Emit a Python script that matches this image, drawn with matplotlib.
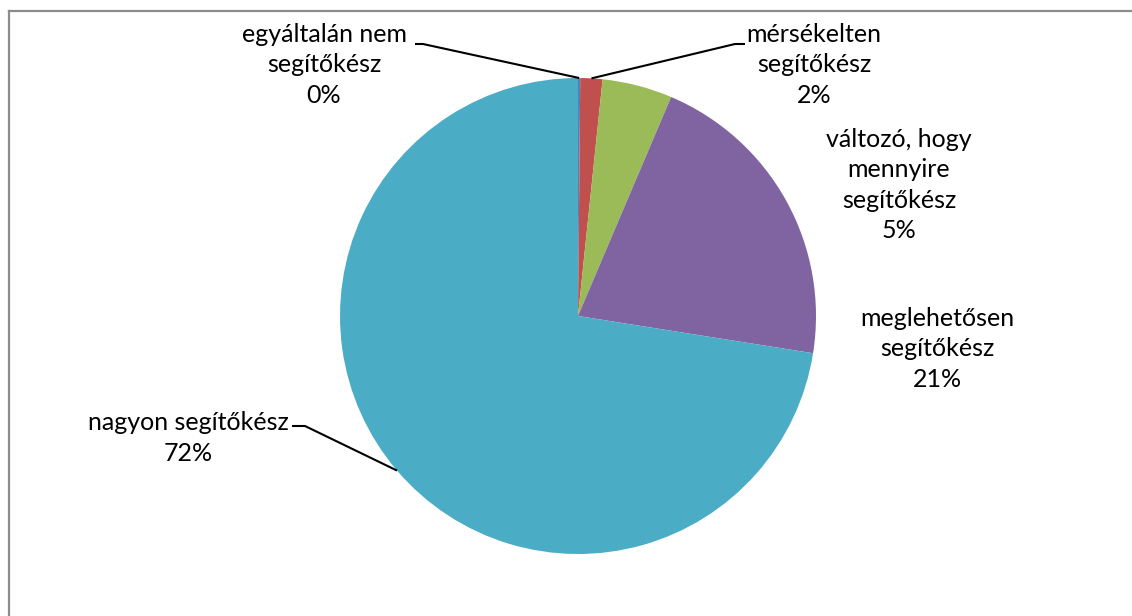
import numpy as np
import matplotlib
matplotlib.use("Agg")
import matplotlib.pyplot as plt
from matplotlib.lines import Line2D

categories = ["egyáltalán nem\nsegítőkész", "mérsékelten\nsegítőkész",
              "változó, hogy\nmennyire\nsegítőkész", "meglehetősen\nsegítőkész",
              "nagyon segítőkész"]
values = [0.15, 1.5, 4.75, 21.1, 72.5]
pct_labels = ["0%", "2%", "5%", "21%", "72%"]
colors = ["#4F81BD", "#C0504D", "#9BBB59", "#8064A2", "#4BACC6"]

W, H = 1132, 616
fig = plt.figure(figsize=(W / 100, H / 100), dpi=100)
ax = fig.add_axes([0, 0, 1, 1])

cx, cy, r = 578, H - 316, 238
wedges, _ = ax.pie(values, colors=colors, startangle=90, counterclock=False,
                   center=(cx, cy), radius=r, frame=True,
                   wedgeprops=dict(linewidth=0))
ax.set_xlim(0, W)
ax.set_ylim(0, H)
ax.set_aspect("equal")
ax.axis("off")

font = dict(family=["Lato", "DejaVu Sans"], fontsize=18, color="black",
            linespacing=1.38)
# label centers (pixels, from top) and optional leader knee
label_pos = [(324, 65), (814, 65), (899, 185), (937, 349), (188, 438)]
knees = [(423, 44, 415), (735, 44, 745), None, None, (305, 426, 292)]

for i, w in enumerate(wedges):
    lx, ly = label_pos[i]
    ax.text(lx, H - ly, categories[i] + "\n" + pct_labels[i], ha="center",
            va="center", **font)
    if knees[i] is not None:
        ang = np.deg2rad((w.theta1 + w.theta2) / 2)
        px, py = cx + r * np.cos(ang), cy + r * np.sin(ang)
        kx, ky, ex = knees[i]
        ax.plot([px, kx, ex], [py, H - ky, H - ky], color="black", lw=1.5,
                solid_capstyle="butt")

# outer frame (chart area border)
fig.add_artist(Line2D([9 / W, 9 / W], [0, 1 - 10.5 / H], transform=fig.transFigure,
                      color="#8c8c8c", lw=1.6))
fig.add_artist(Line2D([9 / W, 1], [1 - 10.5 / H, 1 - 10.5 / H], transform=fig.transFigure,
                      color="#8c8c8c", lw=1.6))

fig.savefig("out.png", dpi=100)
